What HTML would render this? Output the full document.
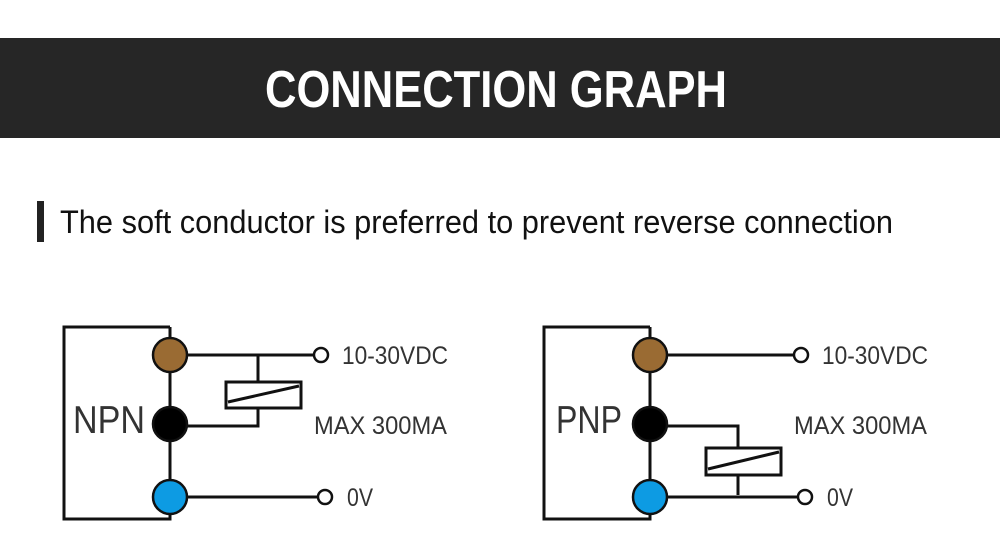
<!DOCTYPE html>
<html><head><meta charset="utf-8"><style>
html,body{margin:0;padding:0;background:#fff;width:1000px;height:553px;overflow:hidden}
</style></head><body>
<svg width="1000" height="553" viewBox="0 0 1000 553" xmlns="http://www.w3.org/2000/svg" font-family="Liberation Sans, sans-serif">
<rect x="0" y="38" width="1000" height="100" fill="#262626"/>
<text x="265" y="107" font-size="52" font-weight="bold" fill="#fff" textLength="462" lengthAdjust="spacingAndGlyphs">CONNECTION GRAPH</text>
<rect x="37" y="201" width="7" height="41" fill="#222"/>
<text x="60" y="233" font-size="32" fill="#111" textLength="833" lengthAdjust="spacingAndGlyphs">The soft conductor is preferred to prevent reverse connection</text>

<g stroke="#111" stroke-width="3" fill="none">
<polyline points="170,327 64,327 64,519 170,519 170,327"/>
<line x1="170" y1="355" x2="314" y2="355"/>
<line x1="170" y1="497" x2="318" y2="497"/>
<line x1="258" y1="355" x2="258" y2="382"/>
<rect x="226" y="382" width="75" height="26"/>
<line x1="228" y1="402" x2="299" y2="386"/>
<polyline points="258,408 258,426 186,426"/>
</g>
<g stroke="#111" stroke-width="2.5">
<circle cx="170" cy="355" r="17" fill="#9a6b33"/>
<circle cx="170" cy="424" r="17" fill="#000"/>
<circle cx="170" cy="497" r="17" fill="#0d9be3"/>
<circle cx="321" cy="355" r="7" fill="#fff"/>
<circle cx="325" cy="497" r="7" fill="#fff"/>
</g>
<g fill="#333" font-size="25">
<text x="73" y="433" font-size="39" textLength="72" lengthAdjust="spacingAndGlyphs">NPN</text>
<text x="342" y="364" textLength="106" lengthAdjust="spacingAndGlyphs">10-30VDC</text>
<text x="314" y="434" textLength="133" lengthAdjust="spacingAndGlyphs">MAX 300MA</text>
<text x="347" y="506" textLength="26" lengthAdjust="spacingAndGlyphs">0V</text>
</g>

<g stroke="#111" stroke-width="3" fill="none">
<polyline points="650,327 544,327 544,519 650,519 650,327"/>
<line x1="650" y1="355" x2="794" y2="355"/>
<line x1="650" y1="497" x2="798" y2="497"/>
<polyline points="666,426 738,426 738,448"/>
<rect x="706" y="448" width="75" height="27"/>
<line x1="708" y1="469" x2="779" y2="452"/>
<line x1="738" y1="475" x2="738" y2="495"/>
</g>
<g stroke="#111" stroke-width="2.5">
<circle cx="650" cy="355" r="17" fill="#9a6b33"/>
<circle cx="650" cy="424" r="17" fill="#000"/>
<circle cx="650" cy="497" r="17" fill="#0d9be3"/>
<circle cx="801" cy="355" r="7" fill="#fff"/>
<circle cx="805" cy="497" r="7" fill="#fff"/>
</g>
<g fill="#333" font-size="25">
<text x="556" y="433" font-size="39" textLength="66" lengthAdjust="spacingAndGlyphs">PNP</text>
<text x="822" y="364" textLength="106" lengthAdjust="spacingAndGlyphs">10-30VDC</text>
<text x="794" y="434" textLength="133" lengthAdjust="spacingAndGlyphs">MAX 300MA</text>
<text x="827" y="506" textLength="26" lengthAdjust="spacingAndGlyphs">0V</text>
</g>
</svg>
</body></html>
